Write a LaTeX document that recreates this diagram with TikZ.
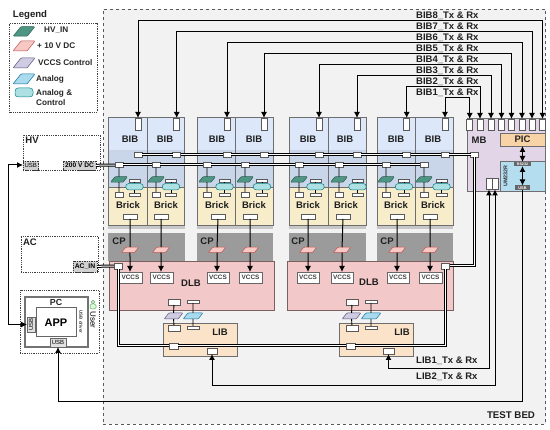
\documentclass[tikz,border=0pt]{standalone}
\usepackage{fontspec}
\setmainfont{Liberation Sans}
\usetikzlibrary{arrows.meta,shapes.geometric}
\newcommand\fs[1]{\fontsize{#1}{#1}\selectfont}
% \rbox{name}{x1}{y1}{x2}{y2}{style}{text}
\newcommand\rbox[7]{\pgfmathsetmacro\rbw{#4-(#2)}\pgfmathsetmacro\rbh{#5-(#3)}%
 \node[inner sep=0pt,outer sep=0pt,minimum width=\rbw pt,minimum height=\rbh pt,#6] (#1) at ({(#2+#4)/2},{(#3+#5)/2}) {#7};}
% \para{name}{cx}{cy}{w}{h}{style}
\newcommand\para[6]{\node[xslant=0.8,inner sep=0pt,outer sep=0pt,minimum width=#4 pt,minimum height=#5 pt,rounded corners=0.8pt,#6] (#1) at (#2,#3) {};}
\definecolor{edge}{HTML}{6E6E6E}
\definecolor{brickc}{HTML}{F8EDCB}
\definecolor{hvc}{HTML}{4F9584}\definecolor{hvd}{HTML}{2F5F55}
\definecolor{tenvc}{HTML}{F8C8C4}\definecolor{tenvd}{HTML}{B85450}
\definecolor{vcpc}{HTML}{CFCCE2}\definecolor{vcpd}{HTML}{56517E}
\definecolor{anpc}{HTML}{A9DAEE}\definecolor{anpd}{HTML}{10739E}
\definecolor{acpc}{HTML}{ACE0E2}\definecolor{acpd}{HTML}{0E8088}
\definecolor{bibt}{HTML}{DCE8FA}\definecolor{bibl}{HTML}{C9D5E8}
\definecolor{cpc}{HTML}{9B9B9B}\definecolor{dlbc}{HTML}{F3C8C8}\definecolor{dlbd}{HTML}{7A6060}
\definecolor{libc}{HTML}{FAE3C8}\definecolor{mbc}{HTML}{E1D5E7}\definecolor{picc}{HTML}{F8D3A6}\definecolor{umc}{HTML}{B4DDF0}
\tikzset{
 txt/.style={font=\fs{9.5}\bfseries,text=black!88,inner sep=0pt},
 lgd/.style={font=\fs{8.2}\bfseries,text=black!85,anchor=west,inner sep=0pt},
 port/.style={draw=black!65,fill=white,line width=0.6pt},
 ext/.style={draw=black!80,densely dotted,fill=black!18,line width=0.7pt},
 dotbox/.style={draw=black!75,densely dotted,line width=0.8pt},
 bibbox/.style={draw=edge,line width=0.8pt},
 brickbox/.style={draw=edge,fill=brickc,line width=0.8pt},
 hvp/.style={draw=hvd,fill=hvc,line width=0.5pt},
 tenv/.style={draw=tenvd,fill=tenvc,line width=0.5pt},
 vcp/.style={draw=vcpd,fill=vcpc,line width=0.5pt},
 anp/.style={draw=anpd,fill=anpc,line width=0.5pt},
 acp/.style={draw=acpd,fill=acpc,line width=0.5pt,rounded corners=3.2pt},
 sig/.style={draw=black,line width=1pt},
 thin sig/.style={draw=black,line width=0.9pt},
 arr/.style={sig,-{Latex[length=6pt,width=6pt]}},
 arrb/.style={sig,{Latex[length=6pt,width=6pt]}-{Latex[length=6pt,width=6pt]}},
 dbl/.style={preaction={draw=black,line width=3pt},draw=white,line width=1pt},
}
\begin{document}
\begin{tikzpicture}[x=1pt,y=-1pt]
\useasboundingbox (0,0) rectangle (550,430);
\fill[white] (0,0) rectangle (550,430);
% test bed
\rbox{bed}{103}{9}{545.5}{424}{draw=black!65,dashed,fill=black!5,line width=0.8pt}{}
\node[txt,font=\fs{9.7}\bfseries] (bedl) at (511,415) {TEST BED};
% legend
\node[txt,font=\fs{9.6}\bfseries] (legt) at (30,15) {Legend};
\rbox{leg}{9.5}{23}{97}{112}{dotbox}{}
\para{l1}{24}{31.5}{14}{9.5}{hvp}
\para{l2}{24}{46}{14}{10}{tenv}
\para{l3}{24}{63}{14}{10}{vcp}
\para{l4}{24}{79}{14}{10}{anp}
\rbox{l5}{15}{88}{33}{97}{acp}{}
\node[lgd] (t1) at (44,30) {HV\_IN};
\node[lgd] (t2) at (37,46) {+ 10 V DC};
\node[lgd] (t3) at (38,63) {VCCS Control};
\node[lgd] (t4) at (36,79) {Analog};
\node[lgd] (t5) at (36,93) {Analog \&};
\node[lgd] (t6) at (36,103) {Control};
% HV and AC
\rbox{hv}{23}{135}{100}{170}{dotbox}{}
\node[txt] (hvl) at (32,140.5) {HV};
\rbox{hvusb}{23}{161}{38.5}{170}{ext,font=\fs{6}}{USB}
\rbox{hvdc}{63}{161}{96}{170}{ext,font=\fs{6.6}\bfseries}{200 V DC}
\rbox{ac}{21}{236}{98}{272}{dotbox}{}
\node[txt] (acl) at (30,242) {AC};
\rbox{acin}{73}{261}{97}{272}{ext,font=\fs{6.8}\bfseries}{AC\_IN}
% CP backgrounds
\foreach \n/\a/\b/\c in {1/108/185/119,2/197/273/207,3/289/366/298,4/377/453/387}{
 \rbox{cp\n}{\a}{233}{\b}{261}{fill=cpc}{}
 \node[txt] (cpl\n) at (\c,241) {CP};
 \fill[black!22] (\a,225) rectangle (\b,229);
}
% BIB + Brick columns
\foreach \i/\l/\r/\tp/\bl/\kl/\g/\t/\bp in {
 1/108/147/138/130/128/119/134.5/130,
 2/147/184.5/176.7/165/166/156/171/161,
 3/197/235.5/227/217/217/207/224.5/218,
 4/235.5/273.5/264/254/254/245/262/250,
 5/289/328/319/308/308/299/315.5/308,
 6/328/366/357/345/346/339/357.5/343,
 7/377/415.5/406.7/396/396/386/404/397,
 8/415.5/453/445/433/433/424/441.5/430}{
 \rbox{bib\i}{\l}{117}{\r}{187}{fill=bibt}{}
 \fill[bibl] (\l,150) rectangle (\r,187);
 \rbox{bibo\i}{\l}{117}{\r}{187}{bibbox}{}
 \rbox{brick\i}{\l}{187}{\r}{225}{brickbox}{}
 \node[txt] (bibl\i) at (\bl,139) {BIB};
 \node[txt] (brl\i) at (\kl,205.5) {Brick};
 \pgfmathsetmacro\xa{\tp-3}\pgfmathsetmacro\xb{\tp+3}
 \rbox{tp\i}{\xa}{118}{\xb}{130}{port}{}
 \pgfmathsetmacro\xa{\tp-4}\pgfmathsetmacro\xb{\tp+4}
 \rbox{dp\i}{\xa}{152.5}{\xb}{157.5}{port}{}
 \pgfmathsetmacro\xa{\g-4}\pgfmathsetmacro\xb{\g+4}
 \rbox{pp\i}{\xa}{162.5}{\xb}{167.5}{port}{}
 \rbox{pb\i}{\xa}{192}{\xb}{197.5}{port}{}
 \pgfmathsetmacro\xa{\t-5.5}\pgfmathsetmacro\xb{\t+5.5}
 \rbox{au\i}{\xa}{179}{\xb}{182}{port}{}
 \rbox{ad\i}{\xa}{193.5}{\xb}{196.5}{port}{}
 \pgfmathsetmacro\xa{\bp-7}\pgfmathsetmacro\xb{\bp+7}
 \rbox{bo\i}{\xa}{214}{\xb}{219}{port}{}
 \para{hv\i}{\g}{179.5}{12.5}{5.5}{hvp}
 \pgfmathsetmacro\xa{\t-8.8}\pgfmathsetmacro\xb{\t+8.8}
 \rbox{ap\i}{\xa}{183.5}{\xb}{190}{acp}{}
 \draw[thin sig] (pp\i) -- (hv\i);
 \draw[thin sig] (hv\i) -- (pb\i);
 \draw[thin sig] (au\i) -- (ap\i);
 \draw[thin sig] (ap\i) -- (ad\i);
}
% DLB
\rbox{dlb1}{109}{261}{274}{310}{fill=dlbc,draw=dlbd,line width=0.8pt}{}
\rbox{dlb2}{287}{261}{453}{310}{fill=dlbc,draw=dlbd,line width=0.8pt}{}
\node[txt] (dlbl1) at (191,283) {DLB};
\node[txt] (dlbl2) at (369,282) {DLB};
% CP parallelograms and VCCS
\foreach \i/\x/\a/\b in {1/130/119/142,2/161/150/173,3/217/207/229,4/250/239/262,5/308/297/319,6/342/331/353,7/397/387/409,8/430/419/442}{
 \rbox{vc\i}{\a}{272}{\b}{283}{draw=black!60,fill=white,line width=0.8pt,font=\fs{6.4}\bfseries,text=black!75}{VCCS}
 \para{cpp\i}{\x}{250}{13}{5.5}{tenv}
 \draw[sig] (bo\i) -- (cpp\i);
 \draw[arr] (cpp\i) -- (cpp\i |- vc\i.north);
}
% LIB
\rbox{lib1}{163}{323}{237}{356}{draw=edge,fill=libc,line width=0.8pt}{}
\rbox{lib2}{339}{323}{413}{356}{draw=edge,fill=libc,line width=0.8pt}{}
\node[txt] (libl1) at (220,332) {LIB};
\node[txt] (libl2) at (402,332) {LIB};
\foreach \n/\dx in {1/0,2/178}{
 \pgfmathsetmacro\a{168+\dx}\pgfmathsetmacro\b{180+\dx}\pgfmathsetmacro\c{187+\dx}\pgfmathsetmacro\d{199+\dx}
 \pgfmathsetmacro\e{173.5+\dx}\pgfmathsetmacro\f{193+\dx}
 \rbox{du\n}{\a}{299}{\b}{305}{port}{}
 \rbox{dv\n}{\c}{300}{\d}{303}{port}{}
 \rbox{ld\n}{\a}{325}{\b}{331}{port}{}
 \rbox{lv\n}{\c}{326}{\d}{329}{port}{}
 \para{lp\n}{\e}{316}{14}{6}{vcp}
 \para{la\n}{\f}{316}{15}{6}{anp}
 \draw[thin sig] (du\n) -- (lp\n);
 \draw[thin sig] (lp\n) -- (ld\n);
 \draw[thin sig] (dv\n) -- (la\n);
 \draw[thin sig] (la\n) -- (lv\n);
}
\rbox{lb1}{169}{343}{178}{349}{port}{}
\rbox{lb2}{346}{343}{355}{349}{port}{}
\rbox{lt1}{207}{348}{217}{354}{port}{}
\rbox{lt2}{383}{348}{394}{354}{port}{}
% DLB power ports
\rbox{dq1}{114}{263}{122.5}{269}{port}{}
\rbox{dq2}{441}{263}{449.5}{269}{port}{}
% MB
\rbox{mb}{467}{118}{545}{191}{draw=edge,fill=mbc,line width=0.8pt}{}
\node[txt] (mbl) at (479,140) {MB};
\rbox{pic}{500}{133}{545}{146}{draw=edge,fill=picc,line width=0.6pt,font=\fs{9.5}\bfseries,text=black!85}{PIC}
\rbox{um}{500}{161}{545}{191}{draw=edge,fill=umc,line width=0.6pt}{}
\node[rotate=90,font=\fs{5.4}\bfseries,text=black!80] (uml) at (505.5,176) {UM232R};
\rbox{uart}{514}{162}{531}{166}{fill=black!60,text=white,font=\fs{3.6}\bfseries}{RS232}
\rbox{uusb}{515}{185.5}{530}{190}{fill=black!60,text=white,font=\fs{3.8}\bfseries}{USB}
\rbox{ml1}{486}{178}{492}{189.5}{port}{}
\rbox{ml2}{492}{178}{498}{189.5}{port}{}
\rbox{mdp}{470.5}{152.5}{478.5}{157.5}{port}{}
\foreach \i/\x in {1/469.7,2/480,3/491,4/501.5,5/511.5,6/522,7/532,8/542.5}{
 \pgfmathsetmacro\xa{\x-3}\pgfmathsetmacro\xb{\x+3}
 \rbox{mp\i}{\xa}{119}{\xb}{130}{port}{}
}
\draw[arrb] (pic.south) -- (uart.north);
\draw[arrb] (uart.south) -- (uusb.north);
% BIB signal buses
\foreach \a/\b/\y in {8/1/98,7/2/87,6/3/76,5/4/65,4/5/54,3/6/43,2/7/32,1/8/21}{
 \draw[arrb] (tp\a.north) -- (tp\a.north |- 0,\y) -| (mp\b.north);
}
\foreach \t/\y in {BIB8/16,BIB7/27,BIB6/38,BIB5/49,BIB4/60,BIB3/71,BIB2/82,BIB1/92.5}{
 \node[txt,anchor=west] (lab\t) at (416,\y) {\t\_Tx \& Rx};
}
\node[txt,anchor=west] (labl1) at (416,361) {LIB1\_Tx \& Rx};
\node[txt,anchor=west] (labl2) at (416,377) {LIB2\_Tx \& Rx};
% power rails
\draw[dbl] (hvdc) -- (pp1);
\foreach \a/\b in {1/2,2/3,3/4,4/5,5/6,6/7,7/8}{
 \draw[dbl] (pp\a) -- (pp\b);
 \draw[dbl] (dp\a) -- (dp\b);
}
\draw[dbl] (dp8) -- (mdp);
\draw[dbl] (mdp.south) |- (dq2.east);
\draw[dbl] (acin) -- (dq1);
\draw[dbl] (dq1.south) |- (lb1.west);
\draw[dbl] (lb1) -- (lb2);
\draw[dbl] (lb2.east) -| (dq2.south);
% PC
\rbox{pcd}{20}{290}{99}{353}{dotbox}{}
\rbox{pc}{25}{297}{88}{347}{draw=black!55,fill=white,line width=1.3pt}{}
\node[font=\fs{8.8}\bfseries,text=black!85] (pcl) at (56,302) {PC};
\rbox{app}{36}{308}{76}{337}{draw=black!60,fill=white,line width=1pt,font=\fs{11}\bfseries}{APP}
\rbox{pcu1}{27}{317}{35}{332}{draw=black!60,fill=black!12,line width=0.6pt}{}
\node[rotate=90,font=\fs{6}] (pcu1t) at (31,324.5) {USB};
\rbox{pcu2}{50}{338}{66}{347}{draw=black!60,fill=black!12,line width=0.6pt,font=\fs{6}}{USB}
\node[rotate=-90,font=\fs{4.5}\bfseries,text=black!75] (drv) at (81,322) {USB driver};
\node[rotate=-90,font=\fs{8}] (usr) at (93,320) {User};
\node[circle,draw=black!60!green!60,fill=green!15!white,inner sep=0pt,minimum size=3.5pt,line width=0.5pt] (uh) at (93,302) {};
\rbox{ub}{90}{304}{96}{309}{draw=black!60!green!60,fill=green!15!white,line width=0.5pt,rounded corners=1.5pt}{}
% USB links
\coordinate (rail) at (8,165);
\draw[arrb] (hvusb.west |- 0,165) -- (rail) |- (pcu1.west);
\draw[arr] (uusb.south) -- (uusb.south |- 0,402) -| (pcu2.south);
% LIB links
\draw[arrb] (ml1.south) -- (ml1.south |- 0,369) -| (lt2.south);
\draw[arrb] (ml2.south) -- (ml2.south |- 0,386) -| (lt1.south);
\end{tikzpicture}
\end{document}
